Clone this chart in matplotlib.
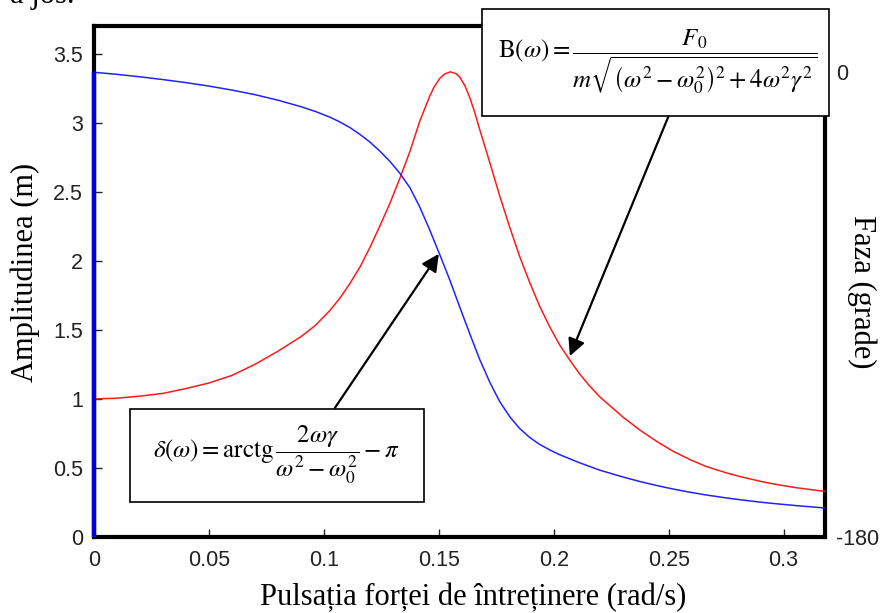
import numpy as np
import matplotlib.pyplot as plt
from matplotlib.patches import Rectangle

plt.rcParams['font.family'] = ['Liberation Serif', 'DejaVu Serif']
plt.rcParams['mathtext.fontset'] = 'stix'

# amplitude B(omega), left axis (m)
omega_amp = [0.0, 0.01, 0.02, 0.03, 0.04, 0.05, 0.06, 0.07, 0.08, 0.09,
             0.0965, 0.1026, 0.107, 0.1113, 0.1157, 0.12, 0.1243, 0.1287, 0.133,
             0.1374, 0.1417, 0.146, 0.148, 0.1504, 0.1525, 0.155, 0.1575, 0.1591,
             0.1613, 0.1635, 0.1657, 0.1678, 0.1722, 0.1765, 0.1809, 0.1852,
             0.1896, 0.1939, 0.1983, 0.2026, 0.207, 0.2113, 0.215, 0.22, 0.23,
             0.2374, 0.245, 0.252, 0.26, 0.2664, 0.275, 0.281, 0.29, 0.2953,
             0.305, 0.318]
amplitude = [1.00, 1.005, 1.02, 1.04, 1.075, 1.115, 1.17, 1.25, 1.345, 1.45,
             1.535, 1.64, 1.73, 1.835, 1.955, 2.095, 2.25, 2.415, 2.595,
             2.79, 3.01, 3.19, 3.26, 3.32, 3.352, 3.368, 3.355, 3.33,
             3.27, 3.18, 3.07, 2.95, 2.71, 2.47, 2.24, 2.03,
             1.84, 1.67, 1.52, 1.39, 1.28, 1.18, 1.105, 1.015, 0.87,
             0.775, 0.69, 0.62, 0.555, 0.51, 0.465, 0.438, 0.403, 0.385,
             0.358, 0.33]

# phase delta(omega), drawn in left-axis units (0 deg -> 3.365, -180 deg -> 0)
omega_phase = [0.0, 0.0, 0.01, 0.02, 0.03, 0.04, 0.05, 0.06, 0.07, 0.08, 0.09,
               0.0965, 0.1026, 0.107, 0.1113, 0.1157, 0.12, 0.1243, 0.1287, 0.133,
               0.1374, 0.1417, 0.146, 0.1504, 0.1548, 0.1591, 0.1635, 0.1678,
               0.1722, 0.1765, 0.1809, 0.1852, 0.1896, 0.1939, 0.1983, 0.2026,
               0.207, 0.2113, 0.22, 0.23, 0.2374, 0.245, 0.252, 0.26, 0.2664,
               0.275, 0.281, 0.29, 0.2953, 0.305, 0.318]
phase = [0.0, 3.365, 3.35, 3.332, 3.312, 3.29, 3.265, 3.236, 3.203, 3.163, 3.116,
         3.08, 3.04, 3.005, 2.965, 2.915, 2.86, 2.795, 2.72, 2.635,
         2.53, 2.39, 2.225, 2.045, 1.86, 1.665, 1.47, 1.285,
         1.12, 0.98, 0.87, 0.785, 0.72, 0.67, 0.63, 0.596,
         0.566, 0.537, 0.484, 0.435, 0.402, 0.372, 0.347, 0.322, 0.304,
         0.283, 0.27, 0.252, 0.243, 0.228, 0.21]

amp_ticks = [0, 0.5, 1, 1.5, 2, 2.5, 3, 3.5]
amp_ticklabels = ['0', '0.5', '1', '1.5', '2', '2.5', '3', '3.5']
omega_ticks = [0, 0.05, 0.1, 0.15, 0.2, 0.25, 0.3]
omega_ticklabels = ['0', '0.05', '0.1', '0.15', '0.2', '0.25', '0.3']
phase_ticks = [-180, 0]
phase_ticklabels = ['-180', '0']

x_max = 0.318
y_max = 3.70
phase_zero = 3.365  # left-axis level that matches 0 deg

fig = plt.figure(figsize=(8.8, 6.13), dpi=100)
ax = fig.add_axes([94/880, 76/613, 731/880, 511/613])

ax.plot(omega_amp, amplitude, color='#ff1a1a', lw=1.1, zorder=3)
ax.plot(omega_phase, phase, color='#2222ff', lw=1.1, zorder=3)
# the jump at omega = 0 sits on the left spine
ax.plot(omega_phase[:2], phase[:2], color='#0000dd', lw=3.2, zorder=4,
        clip_on=False, solid_capstyle='butt')

ax.set_xlim(0, x_max)
ax.set_ylim(0, y_max)
for side in ['left', 'bottom', 'top', 'right']:
    ax.spines[side].set_linewidth(3.0)

tick_font = dict(family=['Liberation Sans', 'DejaVu Sans'], size=15.5)
ax.set_xticks(omega_ticks)
ax.set_xticklabels(omega_ticklabels, fontdict=tick_font, color='#222222')
ax.set_yticks(amp_ticks)
ax.set_yticklabels(amp_ticklabels, fontdict=tick_font, color='#222222')
ax.tick_params(axis='both', direction='in', length=6, width=1.0, color='#222222')
ax.tick_params(axis='x', pad=9)
ax.tick_params(axis='y', pad=8)

ax2 = ax.twinx()
ax2.set_ylim(-180, 180 * (y_max / phase_zero - 1))
ax2.set_yticks(phase_ticks)
ax2.set_yticklabels(phase_ticklabels, fontdict=tick_font, color='#222222')
ax2.tick_params(axis='y', length=0, pad=8)
for side in ['left', 'bottom', 'top', 'right']:
    ax2.spines[side].set_visible(False)

# axis titles
fig.text(25/880, 1 - 272/613, 'Amplitudinea (m)', rotation=90, fontsize=22,
         ha='center', va='center')
fig.text(862/880, 1 - 292/613, 'Faza (grade)', rotation=270, fontsize=22,
         ha='center', va='center')
fig.text(473/880, 1 - 598/613, 'Pulsația forței de întreținere (rad/s)', fontsize=22,
         ha='center', va='center')
fig.text(10/880, 1 - 3/613, 'a jos.', fontsize=22, ha='left', va='baseline')

# formula boxes
box_b = Rectangle((482/880, 1 - 116/613), 347/880, 107/613, transform=fig.transFigure,
                  facecolor='white', edgecolor='black', lw=1.2, zorder=10)
fig.patches.append(box_b)
fig.text(658/880, 1 - 62/613,
         r'$\mathrm{B}(\omega) = \dfrac{F_0}{m\sqrt{\left(\omega^2 - \omega_0^2\right)^2 + 4\omega^2\gamma^2}}$',
         fontsize=18, ha='center', va='center', zorder=11)

box_d = Rectangle((130/880, 1 - 502/613), 294/880, 93/613, transform=fig.transFigure,
                  facecolor='white', edgecolor='black', lw=1.2, zorder=10)
fig.patches.append(box_d)
fig.text(276/880, 1 - 455/613,
         r'$\delta(\omega) = \mathrm{arctg}\,\dfrac{2\omega\gamma}{\omega^2 - \omega_0^2} - \pi$',
         fontsize=18, ha='center', va='center', zorder=11)

# arrows from the boxes to the curves
arrow = dict(arrowstyle='-|>', color='black', lw=1.6, mutation_scale=26,
             shrinkA=0, shrinkB=0)
ax.annotate('', xy=(0.150, 2.05), xytext=(0.1048, 0.935), arrowprops=arrow, zorder=5)
ax.annotate('', xy=(0.207, 1.31), xytext=(0.250, 3.05), arrowprops=arrow, zorder=5)

plt.savefig('out.png', dpi=100)
plt.close()
